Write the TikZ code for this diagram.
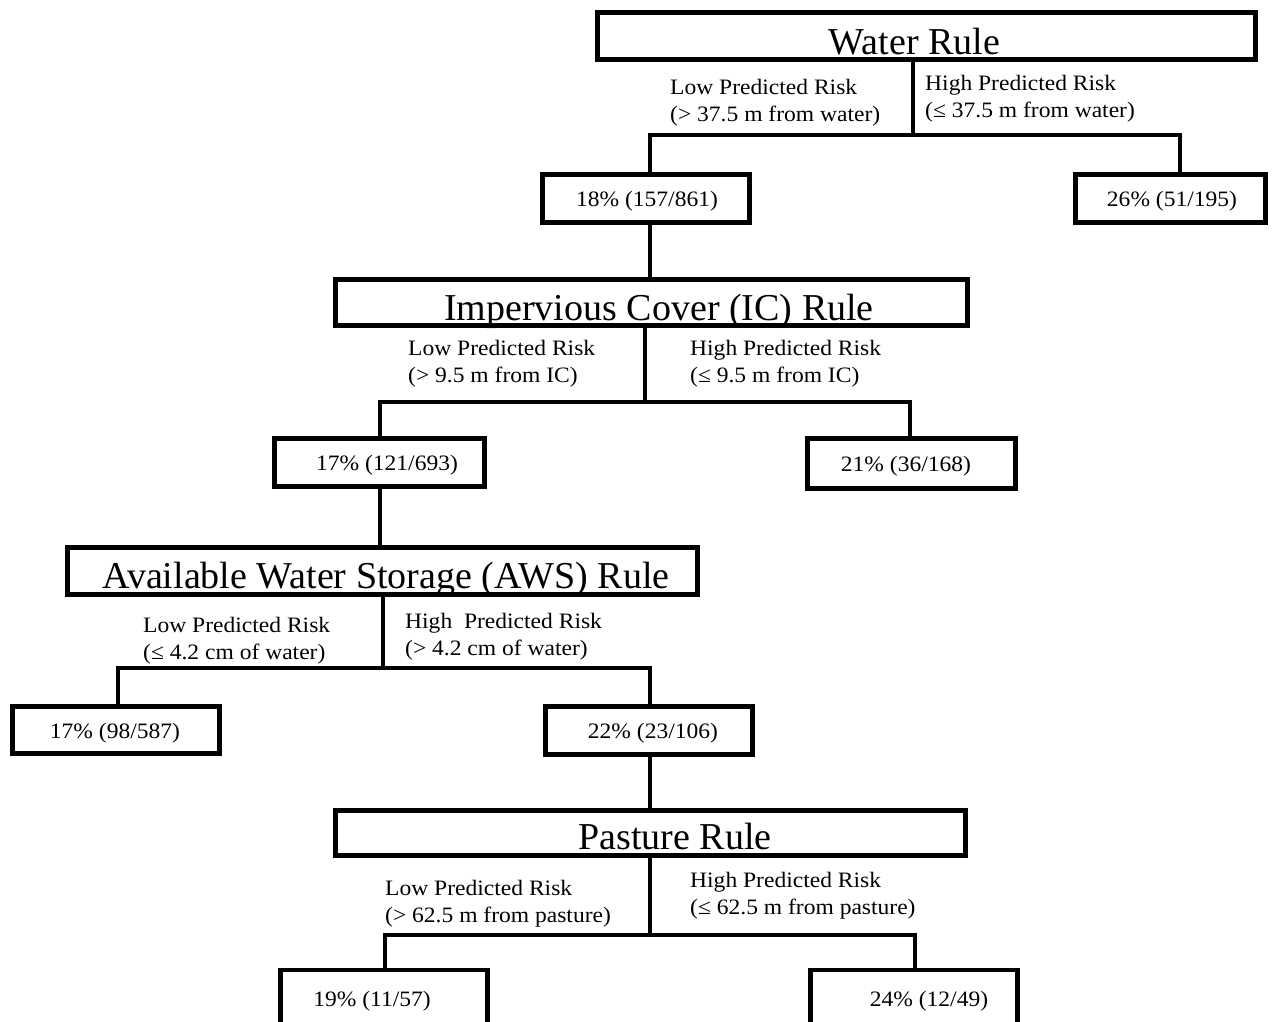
\documentclass[tikz,border=0pt]{standalone}
\usepackage{fontspec}
\setmainfont{Liberation Serif}[FakeStretch=1.07]
\newfontfamily\rulefont{Liberation Serif}
\begin{document}
\begin{tikzpicture}[x=1pt,y=-1pt,
  rulebox/.style={draw, line width=4.5pt, rectangle, inner sep=0pt},
  leafbox/.style={draw, line width=4.5pt, rectangle, inner sep=0pt},
  bigtxt/.style={font=\rulefont\fontsize{38}{44}\selectfont, inner sep=0pt, anchor=base},
  smalltxt/.style={font=\fontsize{22}{27}\selectfont, inner sep=0pt, anchor=base},
  risktxt/.style={font=\fontsize{22}{27.5}\selectfont, inner sep=0pt, anchor=north west, align=left},
  conn/.style={line width=3.5pt}]
\path[use as bounding box, fill=white] (0,0) rectangle (1272,1021);
\clip (0,0) rectangle (1272,1021);

% boxes
\node[rulebox, minimum width=658, minimum height=47] (water) at (926.5,36) {};
\node[leafbox, minimum width=207, minimum height=48] (n18) at (646,198.5) {};
\node[leafbox, minimum width=190, minimum height=48] (n26) at (1170.5,198.5) {};
\node[rulebox, minimum width=632, minimum height=46] (ic) at (651.5,302.5) {};
\node[leafbox, minimum width=210, minimum height=48] (n17a) at (379.5,462.5) {};
\node[leafbox, minimum width=208, minimum height=50] (n21) at (911.5,463.5) {};
\node[rulebox, minimum width=630, minimum height=47] (aws) at (382.5,571) {};
\node[leafbox, minimum width=207, minimum height=47] (n17b) at (116,730) {};
\node[leafbox, minimum width=207, minimum height=48] (n22) at (649,730.5) {};
\node[rulebox, minimum width=630, minimum height=45] (past) at (650.5,833) {};
\node[leafbox, minimum width=207, minimum height=70] (n19) at (384,1005) {};
\node[leafbox, minimum width=207, minimum height=70] (n24) at (914,1005) {};

% box texts
\node[bigtxt] (twater) at (914.5,54) {Water Rule};
\node[smalltxt] (t18) at (647,206) {18\% (157/861)};
\node[smalltxt] (t26) at (1172,206) {26\% (51/195)};
\node[bigtxt] (tic) at (659,320) {Impervious Cover (IC) Rule};
\node[smalltxt] (t17a) at (387,470) {17\% (121/693)};
\node[smalltxt] (t21) at (906,471) {21\% (36/168)};
\node[bigtxt] (taws) at (386,588) {Available Water Storage (AWS) Rule};
\node[smalltxt] (t17b) at (115,738) {17\% (98/587)};
\node[smalltxt] (t22) at (653,738) {22\% (23/106)};
\node[bigtxt] (tpast) at (675,849) {Pasture Rule};
\node[smalltxt] (t19) at (372,1006) {19\% (11/57)};
\node[smalltxt] (t24) at (929,1006) {24\% (12/49)};

% risk labels
\node[risktxt] (wl) at (670,79) {Low Predicted Risk\\(> 37.5 m from water)};
\node[risktxt] (wh) at (925,75) {High Predicted Risk\\(≤ 37.5 m from water)};
\node[risktxt] (icl) at (408,340) {Low Predicted Risk\\(> 9.5 m from IC)};
\node[risktxt] (ich) at (690,340) {High Predicted Risk\\(≤ 9.5 m from IC)};
\node[risktxt] (awsl) at (143,617) {Low Predicted Risk\\(≤ 4.2 cm of water)};
\node[risktxt] (awsh) at (405,613) {High~ Predicted Risk\\(> 4.2 cm of water)};
\node[risktxt] (pl) at (385,880) {Low Predicted Risk\\(> 62.5 m from pasture)};
\node[risktxt] (ph) at (690,872) {High Predicted Risk\\(≤ 62.5 m from pasture)};

% junction coordinates
\coordinate (j1) at (913,135);  \coordinate (j1l) at (650,135);  \coordinate (j1r) at (1180,135);
\coordinate (j2) at (645,402);  \coordinate (j2l) at (380,402);  \coordinate (j2r) at (910,402);
\coordinate (j3) at (383,668);  \coordinate (j3l) at (118,668);  \coordinate (j3r) at (650,668);
\coordinate (j4) at (650,935);  \coordinate (j4l) at (385,935);  \coordinate (j4r) at (915,935);

% connectors
\draw[conn] (j1 |- water.south) -- (j1);
\draw[conn] (j1l |- n18.north) -- (j1l) -- (j1r) -- (j1r |- n26.north);
\draw[conn] (j1l |- n18.south) -- (j1l |- ic.north);

\draw[conn] (j2 |- ic.south) -- (j2);
\draw[conn] (j2l |- n17a.north) -- (j2l) -- (j2r) -- (j2r |- n21.north);
\draw[conn] (j2l |- n17a.south) -- (j2l |- aws.north);

\draw[conn] (j3 |- aws.south) -- (j3);
\draw[conn] (j3l |- n17b.north) -- (j3l) -- (j3r) -- (j3r |- n22.north);
\draw[conn] (j3r |- n22.south) -- (j3r |- past.north);

\draw[conn] (j4 |- past.south) -- (j4);
\draw[conn] (j4l |- n19.north) -- (j4l) -- (j4r) -- (j4r |- n24.north);
\end{tikzpicture}
\end{document}
